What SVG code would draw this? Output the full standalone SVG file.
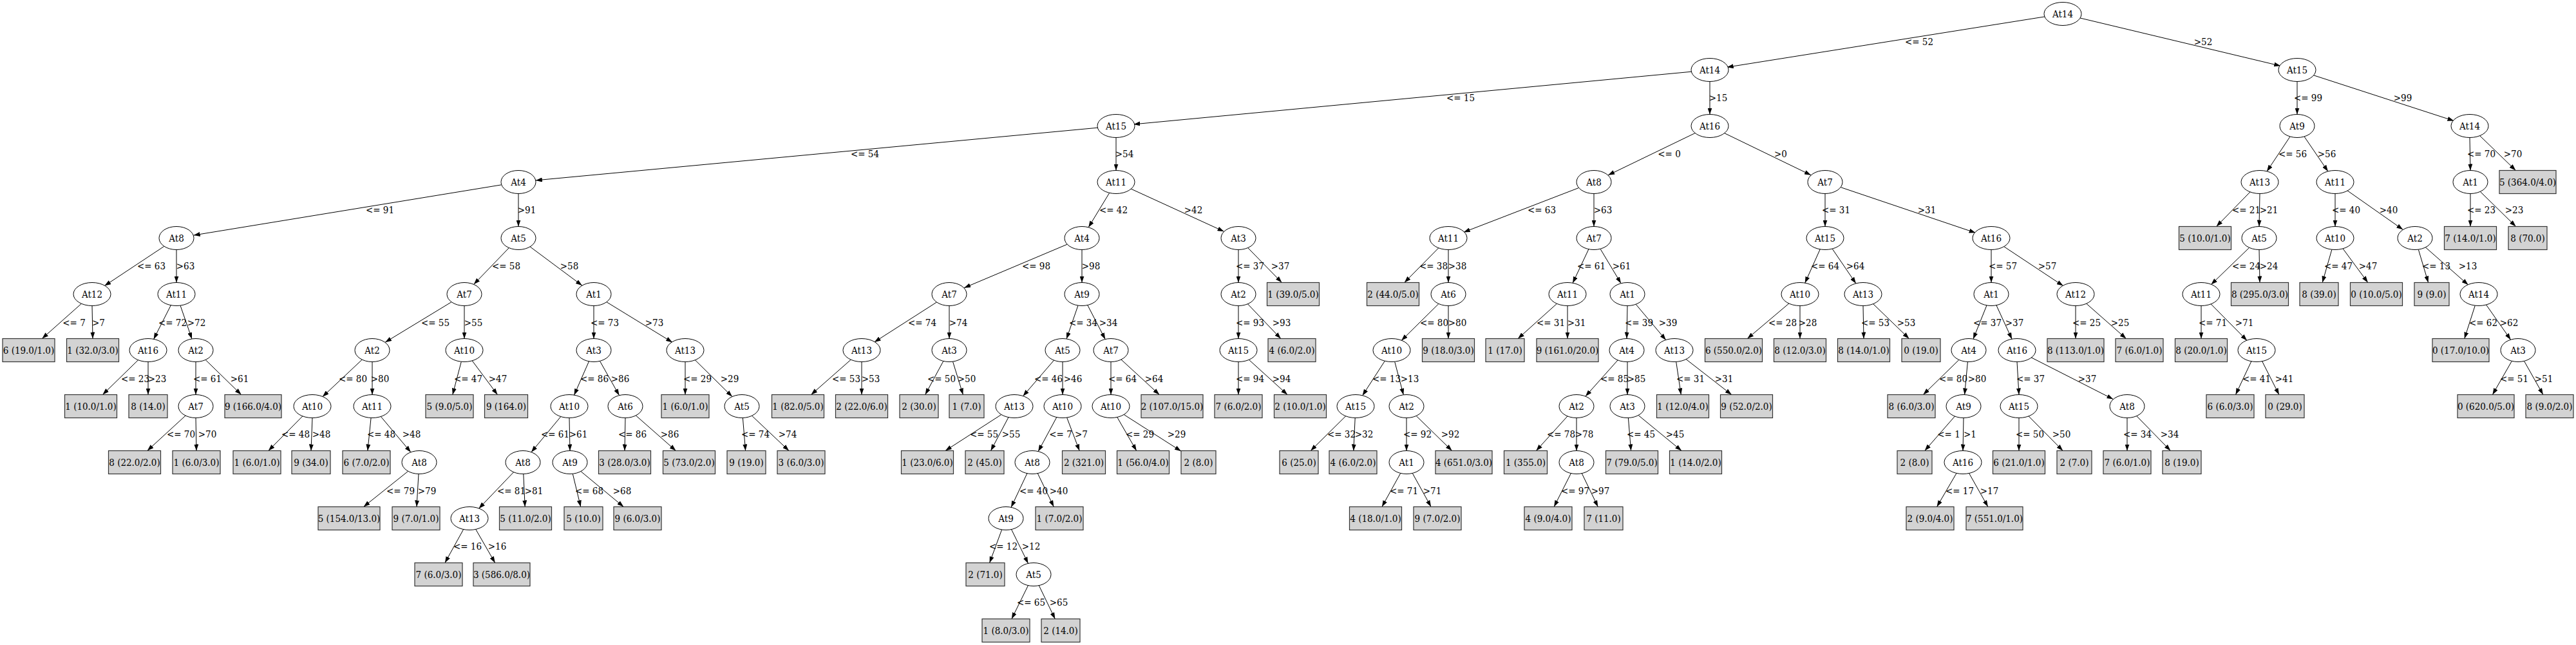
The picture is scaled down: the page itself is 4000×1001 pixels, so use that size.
<svg xmlns="http://www.w3.org/2000/svg" width="4000" height="1001" viewBox="0 0 4000 1001">
<style>
text{font-family:"DejaVu Serif Condensed","DejaVu Serif",serif;font-stretch:condensed;font-size:15px;text-anchor:middle;fill:#000}
.n ellipse{fill:#fff;stroke:#000;stroke-width:1}
.l rect{fill:#d3d3d3;stroke:#333;stroke-width:1.2}
#edges line{stroke:#000;stroke-width:1;marker-end:url(#a)}
</style>
<defs>
<marker id="a" markerWidth="10" markerHeight="7" refX="10" refY="3.5" orient="auto" markerUnits="userSpaceOnUse"><path d="M0,0L10,3.5L0,7z" fill="#000"/></marker>
</defs>
<rect width="4000" height="1001" fill="#fff"/>
<g id="edges">
<line x1="3176.3" y1="25.7" x2="2681.7" y2="104.3"/>
<line x1="3228.8" y1="27.7" x2="3541.2" y2="102.3"/>
<line x1="2627.8" y1="111.1" x2="1760.2" y2="192.9"/>
<line x1="2655" y1="126.5" x2="2655" y2="177.5"/>
<line x1="3567" y1="126.5" x2="3567" y2="177.5"/>
<line x1="3591.6" y1="116.5" x2="3810.4" y2="187.5"/>
<line x1="1705.8" y1="198.1" x2="831.8" y2="279.9"/>
<line x1="1733" y1="213.5" x2="1733" y2="264.5"/>
<line x1="2632.9" y1="206.2" x2="2497.1" y2="271.8"/>
<line x1="2677" y1="206.3" x2="2812" y2="271.7"/>
<line x1="3556" y1="212" x2="3520" y2="266"/>
<line x1="3578.1" y1="212" x2="3614.9" y2="266"/>
<line x1="3835" y1="213.5" x2="3836" y2="264.5"/>
<line x1="3850.4" y1="210.4" x2="3906.4" y2="264.5"/>
<line x1="778.3" y1="286.9" x2="300.7" y2="365.1"/>
<line x1="805" y1="300.5" x2="805" y2="351.5"/>
<line x1="1722.8" y1="299.2" x2="1690.2" y2="352.8"/>
<line x1="1755.5" y1="292.8" x2="1900.5" y2="359.2"/>
<line x1="2451.3" y1="291.6" x2="2272.7" y2="360.4"/>
<line x1="2475" y1="300.5" x2="2475" y2="351.5"/>
<line x1="2834" y1="300.5" x2="2834" y2="351.5"/>
<line x1="2858.4" y1="290.7" x2="3067.6" y2="361.3"/>
<line x1="3494.2" y1="297.7" x2="3441.6" y2="351.5"/>
<line x1="3509" y1="300.5" x2="3508" y2="351.5"/>
<line x1="3626" y1="300.5" x2="3626" y2="351.5"/>
<line x1="3644.8" y1="295.7" x2="3731.2" y2="356.3"/>
<line x1="3836" y1="300.5" x2="3836" y2="351.5"/>
<line x1="3851.3" y1="297.4" x2="3906.6" y2="351.5"/>
<line x1="254.7" y1="382.4" x2="162.3" y2="443.6"/>
<line x1="274" y1="387.5" x2="274" y2="438.5"/>
<line x1="790.3" y1="384.7" x2="735.7" y2="441.3"/>
<line x1="823.2" y1="383" x2="903.8" y2="443"/>
<line x1="1656.9" y1="379.3" x2="1497.1" y2="446.7"/>
<line x1="1680" y1="387.5" x2="1680" y2="438.5"/>
<line x1="1923" y1="387.5" x2="1923" y2="438.5"/>
<line x1="1937.8" y1="384.7" x2="1990.4" y2="438.5"/>
<line x1="2234" y1="384.6" x2="2180.8" y2="438.5"/>
<line x1="2249" y1="387.5" x2="2249" y2="438.5"/>
<line x1="2466.9" y1="386.7" x2="2442.1" y2="439.3"/>
<line x1="2485" y1="386.3" x2="2517" y2="439.7"/>
<line x1="2826.3" y1="386.7" x2="2802.7" y2="439.3"/>
<line x1="2845.1" y1="386" x2="2881.9" y2="440"/>
<line x1="3092" y1="387.5" x2="3092" y2="438.5"/>
<line x1="3111.3" y1="382.4" x2="3203.7" y2="443.6"/>
<line x1="3492.6" y1="384.4" x2="3433.4" y2="441.6"/>
<line x1="3508" y1="387.5" x2="3509" y2="438.5"/>
<line x1="3620.9" y1="387.2" x2="3606.2" y2="438.5"/>
<line x1="3638" y1="385.8" x2="3676.8" y2="438.5"/>
<line x1="3755.3" y1="387.2" x2="3770.6" y2="438.5"/>
<line x1="3766.4" y1="383.9" x2="3832.6" y2="442.1"/>
<line x1="126.7" y1="471" x2="65.3" y2="525.5"/>
<line x1="143" y1="474.5" x2="144" y2="525.5"/>
<line x1="265.4" y1="473.6" x2="238.6" y2="526.4"/>
<line x1="280" y1="474.1" x2="298" y2="526"/>
<line x1="700.9" y1="468.8" x2="598.1" y2="531.2"/>
<line x1="721" y1="474.5" x2="721" y2="525.5"/>
<line x1="922" y1="474.5" x2="922" y2="525.5"/>
<line x1="942" y1="468.8" x2="1044" y2="531.2"/>
<line x1="1454.3" y1="469.1" x2="1357.7" y2="530.9"/>
<line x1="1474" y1="474.5" x2="1474" y2="525.5"/>
<line x1="1674" y1="474.1" x2="1656" y2="526"/>
<line x1="1688.8" y1="473.6" x2="1716.2" y2="526.5"/>
<line x1="1923" y1="474.5" x2="1923" y2="525.5"/>
<line x1="1937.5" y1="471.8" x2="1988.8" y2="525.5"/>
<line x1="2233.9" y1="471.5" x2="2176.1" y2="528.5"/>
<line x1="2249" y1="474.5" x2="2249" y2="525.5"/>
<line x1="2417.8" y1="471" x2="2357.1" y2="525.5"/>
<line x1="2434" y1="474.5" x2="2434" y2="525.5"/>
<line x1="2527" y1="474.5" x2="2526" y2="525.5"/>
<line x1="2540.2" y1="472.3" x2="2586.8" y2="527.7"/>
<line x1="2778.2" y1="470.7" x2="2713.3" y2="525.5"/>
<line x1="2795" y1="474.5" x2="2795" y2="525.5"/>
<line x1="2893" y1="474.5" x2="2894" y2="525.5"/>
<line x1="2908.4" y1="471.4" x2="2964.4" y2="525.5"/>
<line x1="3085" y1="473.9" x2="3064" y2="526.1"/>
<line x1="3099.9" y1="473.7" x2="3124.1" y2="526.3"/>
<line x1="3223" y1="474.5" x2="3223" y2="525.5"/>
<line x1="3239.4" y1="470.9" x2="3301.5" y2="525.5"/>
<line x1="3418" y1="474.5" x2="3418" y2="525.5"/>
<line x1="3432.9" y1="471.6" x2="3489.1" y2="528.4"/>
<line x1="3843.3" y1="474.1" x2="3826.8" y2="525.5"/>
<line x1="3860.4" y1="472.8" x2="3898.6" y2="527.2"/>
<line x1="214.8" y1="558.5" x2="159.4" y2="612.5"/>
<line x1="230" y1="561.5" x2="230" y2="612.5"/>
<line x1="304" y1="561.5" x2="304" y2="612.5"/>
<line x1="319.2" y1="558.5" x2="374.6" y2="612.5"/>
<line x1="562.2" y1="558.2" x2="500.8" y2="615.8"/>
<line x1="578" y1="561.5" x2="578" y2="612.5"/>
<line x1="716.3" y1="561.3" x2="702.8" y2="612.5"/>
<line x1="733.1" y1="559.7" x2="772.5" y2="612.5"/>
<line x1="914.5" y1="560.8" x2="891.5" y2="613.2"/>
<line x1="931.5" y1="560.4" x2="961.5" y2="613.6"/>
<line x1="1064" y1="561.5" x2="1064" y2="612.5"/>
<line x1="1079.1" y1="558.5" x2="1136.9" y2="615.5"/>
<line x1="1321.6" y1="557.9" x2="1259.5" y2="612.5"/>
<line x1="1338" y1="561.5" x2="1338" y2="612.5"/>
<line x1="1464.8" y1="560.5" x2="1436.7" y2="612.5"/>
<line x1="1479.5" y1="561.1" x2="1495.4" y2="612.5"/>
<line x1="1636.5" y1="559.2" x2="1588.5" y2="614.8"/>
<line x1="1650" y1="561.5" x2="1650" y2="612.5"/>
<line x1="1725" y1="561.5" x2="1725" y2="612.5"/>
<line x1="1741" y1="558.1" x2="1800.3" y2="612.5"/>
<line x1="1923" y1="561.5" x2="1923" y2="612.5"/>
<line x1="1939.1" y1="558.1" x2="1999.1" y2="612.5"/>
<line x1="2150.4" y1="560.1" x2="2115.6" y2="613.9"/>
<line x1="2165.7" y1="561.3" x2="2179.3" y2="612.7"/>
<line x1="2512" y1="559" x2="2462" y2="615"/>
<line x1="2527" y1="561.5" x2="2527" y2="612.5"/>
<line x1="2602.7" y1="561.5" x2="2610.3" y2="612.5"/>
<line x1="2617.8" y1="557.3" x2="2688.8" y2="612.5"/>
<line x1="3041.8" y1="558.5" x2="2986.4" y2="612.5"/>
<line x1="3055.4" y1="561.5" x2="3050.6" y2="612.5"/>
<line x1="3132" y1="561.5" x2="3135" y2="612.5"/>
<line x1="3153.7" y1="554.6" x2="3281.3" y2="619.5"/>
<line x1="3495.9" y1="560.7" x2="3471.5" y2="612.5"/>
<line x1="3512.6" y1="560.6" x2="3538.9" y2="612.5"/>
<line x1="3900.3" y1="560.4" x2="3870.4" y2="612.5"/>
<line x1="3919.5" y1="560.4" x2="3948.9" y2="612.5"/>
<line x1="288" y1="645.1" x2="228.7" y2="699.5"/>
<line x1="304" y1="648.5" x2="305" y2="699.5"/>
<line x1="470.1" y1="645.6" x2="416.8" y2="699.5"/>
<line x1="485" y1="648.5" x2="483" y2="699.5"/>
<line x1="576.1" y1="648.4" x2="570.9" y2="699.5"/>
<line x1="591.2" y1="646.3" x2="637.8" y2="701.7"/>
<line x1="871" y1="646.3" x2="825" y2="701.7"/>
<line x1="884" y1="648.5" x2="885" y2="699.5"/>
<line x1="971" y1="648.5" x2="970" y2="699.5"/>
<line x1="987.4" y1="644.9" x2="1049.5" y2="699.5"/>
<line x1="1153.4" y1="648.5" x2="1157.6" y2="699.5"/>
<line x1="1167.6" y1="645.3" x2="1225" y2="699.5"/>
<line x1="1555.4" y1="643.1" x2="1467.9" y2="699.5"/>
<line x1="1566" y1="647.5" x2="1538.5" y2="699.5"/>
<line x1="1640.8" y1="647.5" x2="1612.2" y2="700.5"/>
<line x1="1656.6" y1="648" x2="1676.2" y2="699.5"/>
<line x1="1734.7" y1="647.4" x2="1764.7" y2="699.5"/>
<line x1="1744.7" y1="643.1" x2="1834" y2="700.2"/>
<line x1="2089.9" y1="645.5" x2="2035.2" y2="699.5"/>
<line x1="2104.2" y1="648.5" x2="2101.8" y2="699.5"/>
<line x1="2184" y1="648.5" x2="2184" y2="699.5"/>
<line x1="2199.2" y1="645.5" x2="2254.6" y2="699.5"/>
<line x1="2433.9" y1="646" x2="2385.4" y2="699.5"/>
<line x1="2448" y1="648.5" x2="2448" y2="699.5"/>
<line x1="2528.4" y1="648.5" x2="2532.6" y2="699.5"/>
<line x1="2544.2" y1="644.6" x2="2611.1" y2="699.5"/>
<line x1="3035.4" y1="646.1" x2="2988.7" y2="699.5"/>
<line x1="3049" y1="648.5" x2="3048" y2="699.5"/>
<line x1="3135" y1="648.5" x2="3135" y2="699.5"/>
<line x1="3149.9" y1="645.7" x2="3203.2" y2="699.5"/>
<line x1="3303" y1="648.5" x2="3303" y2="699.5"/>
<line x1="3317.8" y1="645.7" x2="3370.4" y2="699.5"/>
<line x1="633.6" y1="731.4" x2="564.6" y2="786.5"/>
<line x1="650" y1="735.5" x2="647" y2="786.5"/>
<line x1="797.5" y1="732.8" x2="743.5" y2="789.2"/>
<line x1="812.8" y1="735.5" x2="815.2" y2="786.5"/>
<line x1="889.3" y1="735.3" x2="901.7" y2="786.5"/>
<line x1="902.1" y1="731.7" x2="968.3" y2="786.5"/>
<line x1="1594.9" y1="734.7" x2="1570.1" y2="787.3"/>
<line x1="1611.3" y1="734.7" x2="1636.3" y2="786.5"/>
<line x1="2174.7" y1="734.5" x2="2145.9" y2="786.5"/>
<line x1="2193.3" y1="734.5" x2="2222.1" y2="786.5"/>
<line x1="2439.4" y1="734.6" x2="2413.1" y2="786.5"/>
<line x1="2456.3" y1="734.7" x2="2481.3" y2="786.5"/>
<line x1="3038.1" y1="734.3" x2="3007.6" y2="786.5"/>
<line x1="3057.5" y1="734.4" x2="3086.9" y2="786.5"/>
<line x1="719.7" y1="821.5" x2="690.9" y2="873.5"/>
<line x1="738.7" y1="821.4" x2="768.7" y2="873.5"/>
<line x1="1555.6" y1="822" x2="1536.6" y2="873.5"/>
<line x1="1570.5" y1="821.6" x2="1596.5" y2="874.4"/>
<line x1="1596.5" y1="908.6" x2="1570.9" y2="960.5"/>
<line x1="1613.3" y1="908.7" x2="1638.3" y2="960.5"/>
</g>
<g id="edge-labels">
<text x="2980" y="69.5">&lt;= 52</text><text x="3421" y="69.5">&gt;52</text>
<text x="2268" y="157">&lt;= 15</text><text x="2668" y="157">&gt;15</text><text x="3584" y="157">&lt;= 99</text><text x="3731" y="157">&gt;99</text>
<text x="1343" y="244">&lt;= 54</text><text x="1746" y="244">&gt;54</text><text x="2592" y="244">&lt;= 0</text><text x="2765" y="244">&gt;0</text><text x="3560" y="244">&lt;= 56</text><text x="3613" y="244">&gt;56</text><text x="3853" y="244">&lt;= 70</text><text x="3902" y="244">&gt;70</text>
<text x="590" y="331">&lt;= 91</text><text x="818" y="331">&gt;91</text><text x="1729" y="331">&lt;= 42</text><text x="1853" y="331">&gt;42</text><text x="2394" y="331">&lt;= 63</text><text x="2489" y="331">&gt;63</text><text x="2851" y="331">&lt;= 31</text><text x="2992" y="331">&gt;31</text><text x="3488" y="331">&lt;= 21</text><text x="3523" y="331">&gt;21</text><text x="3643" y="331">&lt;= 40</text><text x="3709" y="331">&gt;40</text><text x="3853" y="331">&lt;= 23</text><text x="3904" y="331">&gt;23</text>
<text x="235" y="418">&lt;= 63</text><text x="288" y="418">&gt;63</text><text x="786" y="418">&lt;= 58</text><text x="884" y="418">&gt;58</text><text x="1609" y="418">&lt;= 98</text><text x="1694" y="418">&gt;98</text><text x="1941" y="418">&lt;= 37</text><text x="1988" y="418">&gt;37</text><text x="2226" y="418">&lt;= 38</text><text x="2263" y="418">&gt;38</text><text x="2471" y="418">&lt;= 61</text><text x="2518" y="418">&gt;61</text><text x="2834" y="418">&lt;= 64</text><text x="2881" y="418">&gt;64</text><text x="3110" y="418">&lt;= 57</text><text x="3179" y="418">&gt;57</text><text x="3488" y="418">&lt;= 24</text><text x="3523" y="418">&gt;24</text><text x="3631" y="418">&lt;= 47</text><text x="3677" y="418">&gt;47</text><text x="3783" y="418">&lt;= 13</text><text x="3832" y="418">&gt;13</text>
<text x="115" y="506">&lt;= 7</text><text x="153" y="506">&gt;7</text><text x="268" y="506">&lt;= 72</text><text x="305" y="506">&gt;72</text><text x="676" y="506">&lt;= 55</text><text x="735" y="506">&gt;55</text><text x="939" y="506">&lt;= 73</text><text x="1016" y="506">&gt;73</text><text x="1432" y="506">&lt;= 74</text><text x="1488" y="506">&gt;74</text><text x="1682" y="506">&lt;= 34</text><text x="1721" y="506">&gt;34</text><text x="1941" y="506">&lt;= 93</text><text x="1990" y="506">&gt;93</text><text x="2227" y="506">&lt;= 80</text><text x="2263" y="506">&gt;80</text><text x="2408" y="506">&lt;= 31</text><text x="2448" y="506">&gt;31</text><text x="2545" y="506">&lt;= 39</text><text x="2590" y="506">&gt;39</text><text x="2768" y="506">&lt;= 28</text><text x="2807" y="506">&gt;28</text><text x="2912" y="506">&lt;= 53</text><text x="2960" y="506">&gt;53</text><text x="3086" y="506">&lt;= 37</text><text x="3128" y="506">&gt;37</text><text x="3240" y="506">&lt;= 25</text><text x="3292" y="506">&gt;25</text><text x="3436" y="506">&lt;= 71</text><text x="3485" y="506">&gt;71</text><text x="3856" y="506">&lt;= 62</text><text x="3896" y="506">&gt;62</text>
<text x="210" y="593">&lt;= 23</text><text x="244" y="593">&gt;23</text><text x="322" y="593">&lt;= 61</text><text x="372" y="593">&gt;61</text><text x="548" y="593">&lt;= 80</text><text x="590" y="593">&gt;80</text><text x="727" y="593">&lt;= 47</text><text x="773" y="593">&gt;47</text><text x="923" y="593">&lt;= 86</text><text x="963" y="593">&gt;86</text><text x="1083" y="593">&lt;= 29</text><text x="1133" y="593">&gt;29</text><text x="1314" y="593">&lt;= 53</text><text x="1352" y="593">&gt;53</text><text x="1462" y="593">&lt;= 50</text><text x="1501" y="593">&gt;50</text><text x="1628" y="593">&lt;= 46</text><text x="1666" y="593">&gt;46</text><text x="1743" y="593">&lt;= 64</text><text x="1792" y="593">&gt;64</text><text x="1941" y="593">&lt;= 94</text><text x="1990" y="593">&gt;94</text><text x="2153" y="593">&lt;= 13</text><text x="2189" y="593">&gt;13</text><text x="2507" y="593">&lt;= 85</text><text x="2541" y="593">&gt;85</text><text x="2625" y="593">&lt;= 31</text><text x="2677" y="593">&gt;31</text><text x="3033" y="593">&lt;= 80</text><text x="3070" y="593">&gt;80</text><text x="3153" y="593">&lt;= 37</text><text x="3241" y="593">&gt;37</text><text x="3504" y="593">&lt;= 41</text><text x="3547" y="593">&gt;41</text><text x="3904" y="593">&lt;= 51</text><text x="3950" y="593">&gt;51</text>
<text x="281" y="679">&lt;= 70</text><text x="322" y="679">&gt;70</text><text x="459" y="679">&lt;= 48</text><text x="499" y="679">&gt;48</text><text x="592" y="679">&lt;= 48</text><text x="639" y="679">&gt;48</text><text x="862" y="679">&lt;= 61</text><text x="898" y="679">&gt;61</text><text x="982" y="679">&lt;= 86</text><text x="1040" y="679">&gt;86</text><text x="1173" y="679">&lt;= 74</text><text x="1223" y="679">&gt;74</text><text x="1528" y="679">&lt;= 55</text><text x="1570" y="679">&gt;55</text><text x="1647" y="679">&lt;= 7</text><text x="1679" y="679">&gt;7</text><text x="1770" y="679">&lt;= 29</text><text x="1827" y="679">&gt;29</text><text x="2083" y="679">&lt;= 32</text><text x="2118" y="679">&gt;32</text><text x="2201" y="679">&lt;= 92</text><text x="2252" y="679">&gt;92</text><text x="2424" y="679">&lt;= 78</text><text x="2460" y="679">&gt;78</text><text x="2548" y="679">&lt;= 45</text><text x="2601" y="679">&gt;45</text><text x="3026" y="679">&lt;= 1</text><text x="3059" y="679">&gt;1</text><text x="3152" y="679">&lt;= 50</text><text x="3201" y="679">&gt;50</text><text x="3319" y="679">&lt;= 34</text><text x="3369" y="679">&gt;34</text>
<text x="622" y="767">&lt;= 79</text><text x="663" y="767">&gt;79</text><text x="794" y="767">&lt;= 81</text><text x="829" y="767">&gt;81</text><text x="915" y="767">&lt;= 68</text><text x="966" y="767">&gt;68</text><text x="1605" y="767">&lt;= 40</text><text x="1644" y="767">&gt;40</text><text x="2180" y="767">&lt;= 71</text><text x="2224" y="767">&gt;71</text><text x="2446" y="767">&lt;= 97</text><text x="2485" y="767">&gt;97</text><text x="3043" y="767">&lt;= 17</text><text x="3089" y="767">&gt;17</text>
<text x="726" y="853">&lt;= 16</text><text x="772" y="853">&gt;16</text><text x="1558" y="853">&lt;= 12</text><text x="1601" y="853">&gt;12</text>
<text x="1601" y="940">&lt;= 65</text><text x="1644" y="940">&gt;65</text>
</g>
<g id="n0" class="n"><ellipse cx="3203" cy="21.5" rx="29" ry="18"/><text x="3203" y="27">At14</text></g>
<g id="n1" class="n"><ellipse cx="2655" cy="108.5" rx="29" ry="18"/><text x="2655" y="114">At14</text></g>
<g id="n2" class="n"><ellipse cx="3567" cy="108.5" rx="29" ry="18"/><text x="3567" y="114">At15</text></g>
<g id="n3" class="n"><ellipse cx="1733" cy="195.5" rx="29" ry="18"/><text x="1733" y="201">At15</text></g>
<g id="n4" class="n"><ellipse cx="2655" cy="195.5" rx="29" ry="18"/><text x="2655" y="201">At16</text></g>
<g id="n5" class="n"><ellipse cx="3567" cy="195.5" rx="27" ry="18"/><text x="3567" y="201">At9</text></g>
<g id="n6" class="n"><ellipse cx="3835" cy="195.5" rx="29" ry="18"/><text x="3835" y="201">At14</text></g>
<g id="n7" class="n"><ellipse cx="805" cy="282.5" rx="27" ry="18"/><text x="805" y="288">At4</text></g>
<g id="n8" class="n"><ellipse cx="1733" cy="282.5" rx="29" ry="18"/><text x="1733" y="288">At11</text></g>
<g id="n9" class="n"><ellipse cx="2475" cy="282.5" rx="27" ry="18"/><text x="2475" y="288">At8</text></g>
<g id="n10" class="n"><ellipse cx="2834" cy="282.5" rx="27" ry="18"/><text x="2834" y="288">At7</text></g>
<g id="n11" class="n"><ellipse cx="3509" cy="282.5" rx="29" ry="18"/><text x="3509" y="288">At13</text></g>
<g id="n12" class="n"><ellipse cx="3626" cy="282.5" rx="29" ry="18"/><text x="3626" y="288">At11</text></g>
<g id="n13" class="n"><ellipse cx="3836" cy="282.5" rx="27" ry="18"/><text x="3836" y="288">At1</text></g>
<g id="n14" class="n"><ellipse cx="274" cy="369.5" rx="27" ry="18"/><text x="274" y="375">At8</text></g>
<g id="n15" class="n"><ellipse cx="805" cy="369.5" rx="27" ry="18"/><text x="805" y="375">At5</text></g>
<g id="n16" class="n"><ellipse cx="1680" cy="369.5" rx="27" ry="18"/><text x="1680" y="375">At4</text></g>
<g id="n17" class="n"><ellipse cx="1923" cy="369.5" rx="27" ry="18"/><text x="1923" y="375">At3</text></g>
<g id="n18" class="n"><ellipse cx="2249" cy="369.5" rx="29" ry="18"/><text x="2249" y="375">At11</text></g>
<g id="n19" class="n"><ellipse cx="2475" cy="369.5" rx="27" ry="18"/><text x="2475" y="375">At7</text></g>
<g id="n20" class="n"><ellipse cx="2834" cy="369.5" rx="29" ry="18"/><text x="2834" y="375">At15</text></g>
<g id="n21" class="n"><ellipse cx="3092" cy="369.5" rx="29" ry="18"/><text x="3092" y="375">At16</text></g>
<g id="n22" class="n"><ellipse cx="3508" cy="369.5" rx="27" ry="18"/><text x="3508" y="375">At5</text></g>
<g id="n23" class="n"><ellipse cx="3626" cy="369.5" rx="29" ry="18"/><text x="3626" y="375">At10</text></g>
<g id="n24" class="n"><ellipse cx="3750" cy="369.5" rx="27" ry="18"/><text x="3750" y="375">At2</text></g>
<g id="n25" class="n"><ellipse cx="143" cy="456.5" rx="29" ry="18"/><text x="143" y="462">At12</text></g>
<g id="n26" class="n"><ellipse cx="274" cy="456.5" rx="29" ry="18"/><text x="274" y="462">At11</text></g>
<g id="n27" class="n"><ellipse cx="721" cy="456.5" rx="27" ry="18"/><text x="721" y="462">At7</text></g>
<g id="n28" class="n"><ellipse cx="922" cy="456.5" rx="27" ry="18"/><text x="922" y="462">At1</text></g>
<g id="n29" class="n"><ellipse cx="1474" cy="456.5" rx="27" ry="18"/><text x="1474" y="462">At7</text></g>
<g id="n30" class="n"><ellipse cx="1680" cy="456.5" rx="27" ry="18"/><text x="1680" y="462">At9</text></g>
<g id="n31" class="n"><ellipse cx="1923" cy="456.5" rx="27" ry="18"/><text x="1923" y="462">At2</text></g>
<g id="n32" class="n"><ellipse cx="2249" cy="456.5" rx="27" ry="18"/><text x="2249" y="462">At6</text></g>
<g id="n33" class="n"><ellipse cx="2434" cy="456.5" rx="29" ry="18"/><text x="2434" y="462">At11</text></g>
<g id="n34" class="n"><ellipse cx="2527" cy="456.5" rx="27" ry="18"/><text x="2527" y="462">At1</text></g>
<g id="n35" class="n"><ellipse cx="2795" cy="456.5" rx="29" ry="18"/><text x="2795" y="462">At10</text></g>
<g id="n36" class="n"><ellipse cx="2893" cy="456.5" rx="29" ry="18"/><text x="2893" y="462">At13</text></g>
<g id="n37" class="n"><ellipse cx="3092" cy="456.5" rx="27" ry="18"/><text x="3092" y="462">At1</text></g>
<g id="n38" class="n"><ellipse cx="3223" cy="456.5" rx="29" ry="18"/><text x="3223" y="462">At12</text></g>
<g id="n39" class="n"><ellipse cx="3418" cy="456.5" rx="29" ry="18"/><text x="3418" y="462">At11</text></g>
<g id="n40" class="n"><ellipse cx="3849" cy="456.5" rx="29" ry="18"/><text x="3849" y="462">At14</text></g>
<g id="n41" class="n"><ellipse cx="230" cy="543.5" rx="29" ry="18"/><text x="230" y="549">At16</text></g>
<g id="n42" class="n"><ellipse cx="304" cy="543.5" rx="27" ry="18"/><text x="304" y="549">At2</text></g>
<g id="n43" class="n"><ellipse cx="578" cy="543.5" rx="27" ry="18"/><text x="578" y="549">At2</text></g>
<g id="n44" class="n"><ellipse cx="721" cy="543.5" rx="29" ry="18"/><text x="721" y="549">At10</text></g>
<g id="n45" class="n"><ellipse cx="922" cy="543.5" rx="27" ry="18"/><text x="922" y="549">At3</text></g>
<g id="n46" class="n"><ellipse cx="1064" cy="543.5" rx="29" ry="18"/><text x="1064" y="549">At13</text></g>
<g id="n47" class="n"><ellipse cx="1338" cy="543.5" rx="29" ry="18"/><text x="1338" y="549">At13</text></g>
<g id="n48" class="n"><ellipse cx="1474" cy="543.5" rx="27" ry="18"/><text x="1474" y="549">At3</text></g>
<g id="n49" class="n"><ellipse cx="1650" cy="543.5" rx="27" ry="18"/><text x="1650" y="549">At5</text></g>
<g id="n50" class="n"><ellipse cx="1725" cy="543.5" rx="27" ry="18"/><text x="1725" y="549">At7</text></g>
<g id="n51" class="n"><ellipse cx="1923" cy="543.5" rx="29" ry="18"/><text x="1923" y="549">At15</text></g>
<g id="n52" class="n"><ellipse cx="2161" cy="543.5" rx="29" ry="18"/><text x="2161" y="549">At10</text></g>
<g id="n53" class="n"><ellipse cx="2526" cy="543.5" rx="27" ry="18"/><text x="2526" y="549">At4</text></g>
<g id="n54" class="n"><ellipse cx="2600" cy="543.5" rx="29" ry="18"/><text x="2600" y="549">At13</text></g>
<g id="n55" class="n"><ellipse cx="3057" cy="543.5" rx="27" ry="18"/><text x="3057" y="549">At4</text></g>
<g id="n56" class="n"><ellipse cx="3132" cy="543.5" rx="29" ry="18"/><text x="3132" y="549">At16</text></g>
<g id="n57" class="n"><ellipse cx="3504" cy="543.5" rx="29" ry="18"/><text x="3504" y="549">At15</text></g>
<g id="n58" class="n"><ellipse cx="3910" cy="543.5" rx="27" ry="18"/><text x="3910" y="549">At3</text></g>
<g id="n59" class="n"><ellipse cx="304" cy="630.5" rx="27" ry="18"/><text x="304" y="636">At7</text></g>
<g id="n60" class="n"><ellipse cx="485" cy="630.5" rx="29" ry="18"/><text x="485" y="636">At10</text></g>
<g id="n61" class="n"><ellipse cx="578" cy="630.5" rx="29" ry="18"/><text x="578" y="636">At11</text></g>
<g id="n62" class="n"><ellipse cx="884" cy="630.5" rx="29" ry="18"/><text x="884" y="636">At10</text></g>
<g id="n63" class="n"><ellipse cx="971" cy="630.5" rx="27" ry="18"/><text x="971" y="636">At6</text></g>
<g id="n64" class="n"><ellipse cx="1152" cy="630.5" rx="27" ry="18"/><text x="1152" y="636">At5</text></g>
<g id="n65" class="n"><ellipse cx="1575" cy="630.5" rx="29" ry="18"/><text x="1575" y="636">At13</text></g>
<g id="n66" class="n"><ellipse cx="1650" cy="630.5" rx="29" ry="18"/><text x="1650" y="636">At10</text></g>
<g id="n67" class="n"><ellipse cx="1725" cy="630.5" rx="29" ry="18"/><text x="1725" y="636">At10</text></g>
<g id="n68" class="n"><ellipse cx="2105" cy="630.5" rx="29" ry="18"/><text x="2105" y="636">At15</text></g>
<g id="n69" class="n"><ellipse cx="2184" cy="630.5" rx="27" ry="18"/><text x="2184" y="636">At2</text></g>
<g id="n70" class="n"><ellipse cx="2448" cy="630.5" rx="27" ry="18"/><text x="2448" y="636">At2</text></g>
<g id="n71" class="n"><ellipse cx="2527" cy="630.5" rx="27" ry="18"/><text x="2527" y="636">At3</text></g>
<g id="n72" class="n"><ellipse cx="3049" cy="630.5" rx="27" ry="18"/><text x="3049" y="636">At9</text></g>
<g id="n73" class="n"><ellipse cx="3135" cy="630.5" rx="29" ry="18"/><text x="3135" y="636">At15</text></g>
<g id="n74" class="n"><ellipse cx="3303" cy="630.5" rx="27" ry="18"/><text x="3303" y="636">At8</text></g>
<g id="n75" class="n"><ellipse cx="651" cy="717.5" rx="27" ry="18"/><text x="651" y="723">At8</text></g>
<g id="n76" class="n"><ellipse cx="812" cy="717.5" rx="27" ry="18"/><text x="812" y="723">At8</text></g>
<g id="n77" class="n"><ellipse cx="885" cy="717.5" rx="27" ry="18"/><text x="885" y="723">At9</text></g>
<g id="n78" class="n"><ellipse cx="1603" cy="717.5" rx="27" ry="18"/><text x="1603" y="723">At8</text></g>
<g id="n79" class="n"><ellipse cx="2184" cy="717.5" rx="27" ry="18"/><text x="2184" y="723">At1</text></g>
<g id="n80" class="n"><ellipse cx="2448" cy="717.5" rx="27" ry="18"/><text x="2448" y="723">At8</text></g>
<g id="n81" class="n"><ellipse cx="3048" cy="717.5" rx="29" ry="18"/><text x="3048" y="723">At16</text></g>
<g id="n82" class="n"><ellipse cx="729" cy="804.5" rx="29" ry="18"/><text x="729" y="810">At13</text></g>
<g id="n83" class="n"><ellipse cx="1562" cy="804.5" rx="27" ry="18"/><text x="1562" y="810">At9</text></g>
<g id="n84" class="n"><ellipse cx="1605" cy="891.5" rx="27" ry="18"/><text x="1605" y="897">At5</text></g>
<g id="f1" class="l"><rect x="3881" y="264.5" width="88" height="36"/><text x="3925" y="288">5 (364.0/4.0)</text></g>
<g id="f2" class="l"><rect x="3383.5" y="351.5" width="81" height="36"/><text x="3424" y="375">5 (10.0/1.0)</text></g>
<g id="f3" class="l"><rect x="3795.5" y="351.5" width="81" height="36"/><text x="3836" y="375">7 (14.0/1.0)</text></g>
<g id="f4" class="l"><rect x="3895" y="351.5" width="60" height="36"/><text x="3925" y="375">8 (70.0)</text></g>
<g id="f5" class="l"><rect x="1967.5" y="438.5" width="81" height="36"/><text x="2008" y="462">1 (39.0/5.0)</text></g>
<g id="f6" class="l"><rect x="2122.5" y="438.5" width="81" height="36"/><text x="2163" y="462">2 (44.0/5.0)</text></g>
<g id="f7" class="l"><rect x="3464.5" y="438.5" width="89" height="36"/><text x="3509" y="462">8 (295.0/3.0)</text></g>
<g id="f8" class="l"><rect x="3571" y="438.5" width="60" height="36"/><text x="3601" y="462">8 (39.0)</text></g>
<g id="f9" class="l"><rect x="3649.5" y="438.5" width="81" height="36"/><text x="3690" y="462">0 (10.0/5.0)</text></g>
<g id="f10" class="l"><rect x="3749" y="438.5" width="54" height="36"/><text x="3776" y="462">9 (9.0)</text></g>
<g id="f11" class="l"><rect x="4" y="525.5" width="81" height="36"/><text x="44.5" y="549">6 (19.0/1.0)</text></g>
<g id="f12" class="l"><rect x="103.5" y="525.5" width="81" height="36"/><text x="144" y="549">1 (32.0/3.0)</text></g>
<g id="f13" class="l"><rect x="1969" y="525.5" width="74" height="36"/><text x="2006" y="549">4 (6.0/2.0)</text></g>
<g id="f14" class="l"><rect x="2208.5" y="525.5" width="81" height="36"/><text x="2249" y="549">9 (18.0/3.0)</text></g>
<g id="f15" class="l"><rect x="2307" y="525.5" width="60" height="36"/><text x="2337" y="549">1 (17.0)</text></g>
<g id="f16" class="l"><rect x="2386" y="525.5" width="96" height="36"/><text x="2434" y="549">9 (161.0/20.0)</text></g>
<g id="f17" class="l"><rect x="2647.5" y="525.5" width="89" height="36"/><text x="2692" y="549">6 (550.0/2.0)</text></g>
<g id="f18" class="l"><rect x="2754.5" y="525.5" width="81" height="36"/><text x="2795" y="549">8 (12.0/3.0)</text></g>
<g id="f19" class="l"><rect x="2853.5" y="525.5" width="81" height="36"/><text x="2894" y="549">8 (14.0/1.0)</text></g>
<g id="f20" class="l"><rect x="2953" y="525.5" width="60" height="36"/><text x="2983" y="549">0 (19.0)</text></g>
<g id="f21" class="l"><rect x="3179" y="525.5" width="88" height="36"/><text x="3223" y="549">8 (113.0/1.0)</text></g>
<g id="f22" class="l"><rect x="3285" y="525.5" width="74" height="36"/><text x="3322" y="549">7 (6.0/1.0)</text></g>
<g id="f23" class="l"><rect x="3377.5" y="525.5" width="81" height="36"/><text x="3418" y="549">8 (20.0/1.0)</text></g>
<g id="f24" class="l"><rect x="3777" y="525.5" width="88" height="36"/><text x="3821" y="549">0 (17.0/10.0)</text></g>
<g id="f25" class="l"><rect x="100.5" y="612.5" width="81" height="36"/><text x="141" y="636">1 (10.0/1.0)</text></g>
<g id="f26" class="l"><rect x="200" y="612.5" width="60" height="36"/><text x="230" y="636">8 (14.0)</text></g>
<g id="f27" class="l"><rect x="349" y="612.5" width="88" height="36"/><text x="393" y="636">9 (166.0/4.0)</text></g>
<g id="f28" class="l"><rect x="661" y="612.5" width="74" height="36"/><text x="698" y="636">5 (9.0/5.0)</text></g>
<g id="f29" class="l"><rect x="752.5" y="612.5" width="67" height="36"/><text x="786" y="636">9 (164.0)</text></g>
<g id="f30" class="l"><rect x="1027" y="612.5" width="74" height="36"/><text x="1064" y="636">1 (6.0/1.0)</text></g>
<g id="f31" class="l"><rect x="1198.5" y="612.5" width="81" height="36"/><text x="1239" y="636">1 (82.0/5.0)</text></g>
<g id="f32" class="l"><rect x="1297.5" y="612.5" width="81" height="36"/><text x="1338" y="636">2 (22.0/6.0)</text></g>
<g id="f33" class="l"><rect x="1397" y="612.5" width="60" height="36"/><text x="1427" y="636">2 (30.0)</text></g>
<g id="f34" class="l"><rect x="1474" y="612.5" width="54" height="36"/><text x="1501" y="636">1 (7.0)</text></g>
<g id="f35" class="l"><rect x="1772" y="612.5" width="96" height="36"/><text x="1820" y="636">2 (107.0/15.0)</text></g>
<g id="f36" class="l"><rect x="1886" y="612.5" width="74" height="36"/><text x="1923" y="636">7 (6.0/2.0)</text></g>
<g id="f37" class="l"><rect x="1978.5" y="612.5" width="81" height="36"/><text x="2019" y="636">2 (10.0/1.0)</text></g>
<g id="f38" class="l"><rect x="2572.5" y="612.5" width="81" height="36"/><text x="2613" y="636">1 (12.0/4.0)</text></g>
<g id="f39" class="l"><rect x="2671.5" y="612.5" width="81" height="36"/><text x="2712" y="636">9 (52.0/2.0)</text></g>
<g id="f40" class="l"><rect x="2931" y="612.5" width="74" height="36"/><text x="2968" y="636">8 (6.0/3.0)</text></g>
<g id="f41" class="l"><rect x="3426" y="612.5" width="74" height="36"/><text x="3463" y="636">6 (6.0/3.0)</text></g>
<g id="f42" class="l"><rect x="3518" y="612.5" width="60" height="36"/><text x="3548" y="636">0 (29.0)</text></g>
<g id="f43" class="l"><rect x="3816" y="612.5" width="88" height="36"/><text x="3860" y="636">0 (620.0/5.0)</text></g>
<g id="f44" class="l"><rect x="3922" y="612.5" width="74" height="36"/><text x="3959" y="636">8 (9.0/2.0)</text></g>
<g id="f45" class="l"><rect x="168.5" y="699.5" width="81" height="36"/><text x="209" y="723">8 (22.0/2.0)</text></g>
<g id="f46" class="l"><rect x="268" y="699.5" width="74" height="36"/><text x="305" y="723">1 (6.0/3.0)</text></g>
<g id="f47" class="l"><rect x="362" y="699.5" width="74" height="36"/><text x="399" y="723">1 (6.0/1.0)</text></g>
<g id="f48" class="l"><rect x="453" y="699.5" width="60" height="36"/><text x="483" y="723">9 (34.0)</text></g>
<g id="f49" class="l"><rect x="532" y="699.5" width="74" height="36"/><text x="569" y="723">6 (7.0/2.0)</text></g>
<g id="f50" class="l"><rect x="929.5" y="699.5" width="81" height="36"/><text x="970" y="723">3 (28.0/3.0)</text></g>
<g id="f51" class="l"><rect x="1029.5" y="699.5" width="81" height="36"/><text x="1070" y="723">5 (73.0/2.0)</text></g>
<g id="f52" class="l"><rect x="1129" y="699.5" width="60" height="36"/><text x="1159" y="723">9 (19.0)</text></g>
<g id="f53" class="l"><rect x="1207" y="699.5" width="74" height="36"/><text x="1244" y="723">3 (6.0/3.0)</text></g>
<g id="f54" class="l"><rect x="1399.5" y="699.5" width="81" height="36"/><text x="1440" y="723">1 (23.0/6.0)</text></g>
<g id="f55" class="l"><rect x="1499" y="699.5" width="60" height="36"/><text x="1529" y="723">2 (45.0)</text></g>
<g id="f56" class="l"><rect x="1649.5" y="699.5" width="67" height="36"/><text x="1683" y="723">2 (321.0)</text></g>
<g id="f57" class="l"><rect x="1734.5" y="699.5" width="81" height="36"/><text x="1775" y="723">1 (56.0/4.0)</text></g>
<g id="f58" class="l"><rect x="1834" y="699.5" width="54" height="36"/><text x="1861" y="723">2 (8.0)</text></g>
<g id="f59" class="l"><rect x="1987" y="699.5" width="60" height="36"/><text x="2017" y="723">6 (25.0)</text></g>
<g id="f60" class="l"><rect x="2064" y="699.5" width="74" height="36"/><text x="2101" y="723">4 (6.0/2.0)</text></g>
<g id="f61" class="l"><rect x="2229" y="699.5" width="88" height="36"/><text x="2273" y="723">4 (651.0/3.0)</text></g>
<g id="f62" class="l"><rect x="2335.5" y="699.5" width="67" height="36"/><text x="2369" y="723">1 (355.0)</text></g>
<g id="f63" class="l"><rect x="2493.5" y="699.5" width="81" height="36"/><text x="2534" y="723">7 (79.0/5.0)</text></g>
<g id="f64" class="l"><rect x="2592.5" y="699.5" width="81" height="36"/><text x="2633" y="723">1 (14.0/2.0)</text></g>
<g id="f65" class="l"><rect x="2946" y="699.5" width="54" height="36"/><text x="2973" y="723">2 (8.0)</text></g>
<g id="f66" class="l"><rect x="3094.5" y="699.5" width="81" height="36"/><text x="3135" y="723">6 (21.0/1.0)</text></g>
<g id="f67" class="l"><rect x="3194" y="699.5" width="54" height="36"/><text x="3221" y="723">2 (7.0)</text></g>
<g id="f68" class="l"><rect x="3266" y="699.5" width="74" height="36"/><text x="3303" y="723">7 (6.0/1.0)</text></g>
<g id="f69" class="l"><rect x="3358" y="699.5" width="60" height="36"/><text x="3388" y="723">8 (19.0)</text></g>
<g id="f70" class="l"><rect x="494" y="786.5" width="96" height="36"/><text x="542" y="810">5 (154.0/13.0)</text></g>
<g id="f71" class="l"><rect x="609" y="786.5" width="74" height="36"/><text x="646" y="810">9 (7.0/1.0)</text></g>
<g id="f72" class="l"><rect x="775.5" y="786.5" width="81" height="36"/><text x="816" y="810">5 (11.0/2.0)</text></g>
<g id="f73" class="l"><rect x="876" y="786.5" width="60" height="36"/><text x="906" y="810">5 (10.0)</text></g>
<g id="f74" class="l"><rect x="953" y="786.5" width="74" height="36"/><text x="990" y="810">9 (6.0/3.0)</text></g>
<g id="f75" class="l"><rect x="1608" y="786.5" width="74" height="36"/><text x="1645" y="810">1 (7.0/2.0)</text></g>
<g id="f76" class="l"><rect x="2095.5" y="786.5" width="81" height="36"/><text x="2136" y="810">4 (18.0/1.0)</text></g>
<g id="f77" class="l"><rect x="2195" y="786.5" width="74" height="36"/><text x="2232" y="810">9 (7.0/2.0)</text></g>
<g id="f78" class="l"><rect x="2367" y="786.5" width="74" height="36"/><text x="2404" y="810">4 (9.0/4.0)</text></g>
<g id="f79" class="l"><rect x="2460" y="786.5" width="60" height="36"/><text x="2490" y="810">7 (11.0)</text></g>
<g id="f80" class="l"><rect x="2960" y="786.5" width="74" height="36"/><text x="2997" y="810">2 (9.0/4.0)</text></g>
<g id="f81" class="l"><rect x="3053" y="786.5" width="88" height="36"/><text x="3097" y="810">7 (551.0/1.0)</text></g>
<g id="f82" class="l"><rect x="644" y="873.5" width="74" height="36"/><text x="681" y="897">7 (6.0/3.0)</text></g>
<g id="f83" class="l"><rect x="735" y="873.5" width="88" height="36"/><text x="779" y="897">3 (586.0/8.0)</text></g>
<g id="f84" class="l"><rect x="1500" y="873.5" width="60" height="36"/><text x="1530" y="897">2 (71.0)</text></g>
<g id="f85" class="l"><rect x="1525" y="960.5" width="74" height="36"/><text x="1562" y="984">1 (8.0/3.0)</text></g>
<g id="f86" class="l"><rect x="1617" y="960.5" width="60" height="36"/><text x="1647" y="984">2 (14.0)</text></g>
</svg>
